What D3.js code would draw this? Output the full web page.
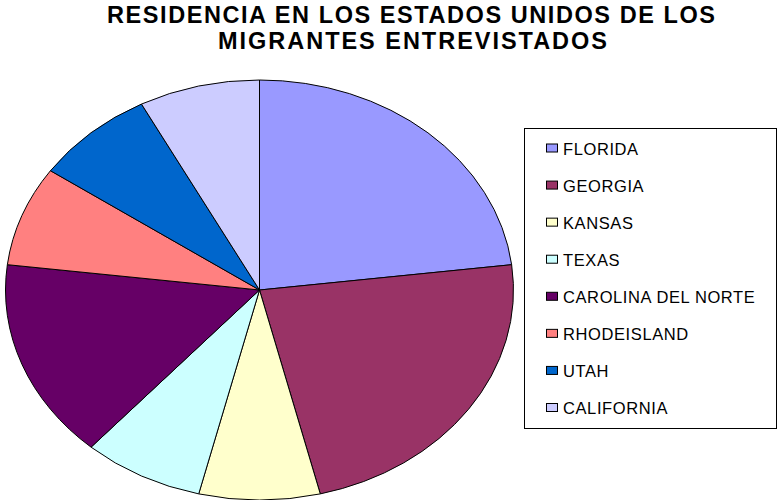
<!DOCTYPE html>
<html>
<head>
<meta charset="utf-8">
<script src="https://cdn.jsdelivr.net/npm/d3@7"></script>
<style>
  html, body { margin: 0; padding: 0; background: #ffffff; }
  svg { display: block; }
</style>
</head>
<body>
<svg id="chart" width="778" height="500"></svg>
<script>
// Survey data: where the interviewed migrants live in the United States
const states = ["FLORIDA", "GEORGIA", "KANSAS", "TEXAS", "CAROLINA DEL NORTE", "RHODE ISLAND", "UTAH", "CALIFORNIA"];
const legendLabels = ["FLORIDA", "GEORGIA", "KANSAS", "TEXAS", "CAROLINA DEL NORTE", "RHODEISLAND", "UTAH", "CALIFORNIA"];
const migrants = [3, 3, 1, 1, 2, 1, 1, 1];
const sliceColors = ["#9999FF", "#993366", "#FFFFCC", "#CCFFFF", "#660066", "#FF8080", "#0066CC", "#CCCCFF"];
const titleLines = ["RESIDENCIA EN LOS ESTADOS UNIDOS DE LOS", "MIGRANTES ENTREVISTADOS"];

const svg = d3.select("#chart");
const font = "Arial, 'Liberation Sans', Helvetica, sans-serif";

// Title, two centred bold lines
const titleSpecs = [
  { y: 23, x: 411, len: 608 },
  { y: 48.5, x: 412.5, len: 389 }
];
svg.append("g").selectAll("text")
  .data(titleLines)
  .join("text")
  .attr("x", (d, i) => titleSpecs[i].x)
  .attr("y", (d, i) => titleSpecs[i].y)
  .attr("text-anchor", "middle")
  .attr("textLength", (d, i) => titleSpecs[i].len)
  .attr("lengthAdjust", "spacing")
  .style("font-family", font)
  .style("font-weight", "bold")
  .style("font-size", "23.5px")
  .style("fill", "#000")
  .text(d => d);

// Pie, drawn on a unit circle and stretched into an ellipse
const cx = 259.5, cy = 290, rx = 254, ry = 210, R = 100;
const pie = d3.pie().sort(null).value(d => d.v).startAngle(0).endAngle(2 * Math.PI);
const arc = d3.arc().innerRadius(0).outerRadius(R);
const color = d3.scaleOrdinal().domain(states).range(sliceColors);

const slices = pie(states.map((s, i) => ({ s, v: migrants[i] })));
svg.append("g")
  .attr("transform", `translate(${cx},${cy}) scale(${rx / R},${ry / R})`)
  .selectAll("path")
  .data(slices)
  .join("path")
  .attr("d", arc)
  .attr("fill", d => color(d.data.s))
  .attr("stroke", "#000")
  .attr("stroke-width", 1)
  .attr("vector-effect", "non-scaling-stroke");

// Legend
const legend = svg.append("g");
legend.append("rect")
  .attr("x", 524.5).attr("y", 128.5)
  .attr("width", 252).attr("height", 300)
  .attr("fill", "#fff")
  .attr("stroke", "#000")
  .attr("stroke-width", 1);

const rowY = d3.scalePoint().domain(states).range([148.5, 408]);
const rows = legend.selectAll("g.item")
  .data(states)
  .join("g")
  .attr("class", "item")
  .attr("transform", d => `translate(0,${rowY(d)})`);

rows.append("rect")
  .attr("x", 546.5).attr("y", -4.5)
  .attr("width", 11).attr("height", 8)
  .attr("fill", d => color(d))
  .attr("stroke", "#000")
  .attr("stroke-width", 1);

rows.append("text")
  .attr("x", 563)
  .attr("y", 6)
  .style("font-family", font)
  .style("font-size", "16.5px")
  .style("letter-spacing", "0.6px")
  .style("fill", "#000")
  .text((d, i) => legendLabels[i]);
</script>
</body>
</html>
